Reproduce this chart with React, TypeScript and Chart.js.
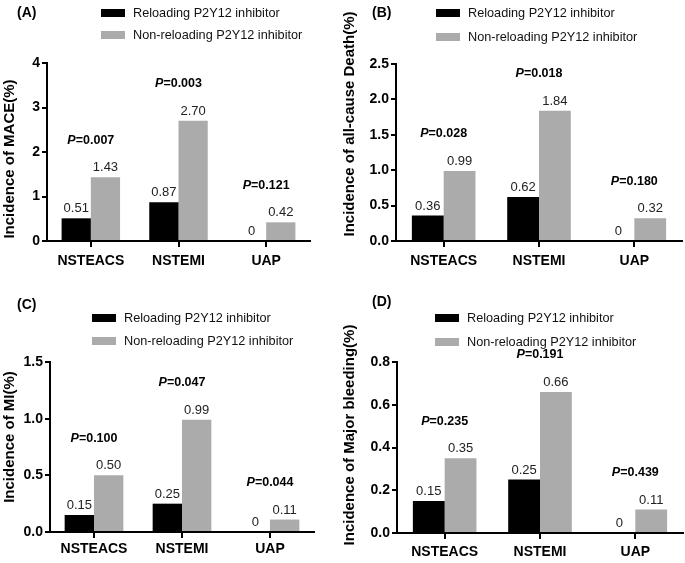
import React, { useEffect, useRef } from 'react';
import { Chart, registerables } from 'chart.js';

Chart.register(...registerables);

const FONT = "'Liberation Sans', Arial, Helvetica, sans-serif";
Chart.defaults.font.family = FONT;

// ---- data ----
const categories = ['NSTEACS', 'NSTEMI', 'UAP'];
const seriesLabels = ['Reloading P2Y12 inhibitor', 'Non-reloading P2Y12 inhibitor'];
const seriesColors = ['#000000', '#ababab'];

const maceReloading = [0.51, 0.87, 0];
const maceNonReloading = [1.43, 2.7, 0.42];
const maceP = ['0.007', '0.003', '0.121'];
const maceTicks = ['0', '1', '2', '3', '4'];

const deathReloading = [0.36, 0.62, 0];
const deathNonReloading = [0.99, 1.84, 0.32];
const deathP = ['0.028', '0.018', '0.180'];
const deathTicks = ['0.0', '0.5', '1.0', '1.5', '2.0', '2.5'];

const miReloading = [0.15, 0.25, 0];
const miNonReloading = [0.5, 0.99, 0.11];
const miP = ['0.100', '0.047', '0.044'];
const miTicks = ['0.0', '0.5', '1.0', '1.5'];

const bleedReloading = [0.15, 0.25, 0];
const bleedNonReloading = [0.35, 0.66, 0.11];
const bleedP = ['0.235', '0.191', '0.439'];
const bleedTicks = ['0.0', '0.2', '0.4', '0.6', '0.8'];

type Panel = {
  tag: string;
  yTitle: string;
  a: number[];
  b: number[];
  p: string[];
  ticks: string[];
  x: number; y: number; w: number; h: number;
  left: number; top: number; right: number; bottom: number;
  xPad: number;
  tagX: number; tagY: number;
  legX: number; legY: number; legGap: number;
  titleX: number; titleY: number;
};

const panels: Panel[] = [
  {
    tag: '(A)', yTitle: 'Incidence of MACE(%)', a: maceReloading, b: maceNonReloading, p: maceP, ticks: maceTicks,
    x: 0, y: 0, w: 340, h: 280, left: 47, top: 63, right: 30, bottom: 39, xPad: 6,
    tagX: 17, tagY: 13, legX: 101, legY: 13, legGap: 22, titleX: 10, titleY: 159,
  },
  {
    tag: '(B)', yTitle: 'Incidence of all-cause Death(%)', a: deathReloading, b: deathNonReloading, p: deathP, ticks: deathTicks,
    x: 340, y: 0, w: 345, h: 280, left: 56, top: 64, right: 3, bottom: 39, xPad: 6,
    tagX: 32, tagY: 13, legX: 96, legY: 13, legGap: 24, titleX: 10, titleY: 124,
  },
  {
    tag: '(C)', yTitle: 'Incidence of MI(%)', a: miReloading, b: miNonReloading, p: miP, ticks: miTicks,
    x: 0, y: 280, w: 340, h: 283, left: 50, top: 82, right: 26, bottom: 31, xPad: 3,
    tagX: 17, tagY: 25, legX: 92, legY: 38, legGap: 23, titleX: 10, titleY: 157,
  },
  {
    tag: '(D)', yTitle: 'Incidence of Major bleeding(%)', a: bleedReloading, b: bleedNonReloading, p: bleedP, ticks: bleedTicks,
    x: 340, y: 280, w: 345, h: 283, left: 57, top: 82, right: 2, bottom: 30, xPad: 5,
    tagX: 32, tagY: 22, legX: 95, legY: 38, legGap: 24, titleX: 10, titleY: 155,
  },
];

function fmtVal(v: number) {
  return v === 0 ? '0' : v.toFixed(2);
}

function makePlugin(p: Panel) {
  return {
    id: 'annot' + p.tag,
    afterDraw(chart: any) {
      const ctx = chart.ctx as CanvasRenderingContext2D;
      ctx.save();
      // value labels
      ctx.fillStyle = '#222';
      ctx.font = `13px ${FONT}`;
      ctx.textAlign = 'center';
      ctx.textBaseline = 'bottom';
      const metas = [chart.getDatasetMeta(0), chart.getDatasetMeta(1)];
      metas.forEach((meta: any, di: number) => {
        meta.data.forEach((bar: any, i: number) => {
          const v = chart.data.datasets[di].data[i] as number;
          ctx.fillText(fmtVal(v), bar.x, bar.y - 3);
        });
      });
      // P values
      ctx.fillStyle = '#000';
      ctx.textBaseline = 'middle';
      ctx.textAlign = 'left';
      const xs = chart.scales.x;
      categories.forEach((_c, i) => {
        const topY = Math.min(metas[0].data[i].y, metas[1].data[i].y);
        const cx = xs.getPixelForValue(i);
        const cy = topY - 37;
        const fI = `italic bold 12.5px ${FONT}`;
        const fB = `bold 12.5px ${FONT}`;
        ctx.font = fI;
        const w1 = ctx.measureText('P').width;
        ctx.font = fB;
        const rest = '=' + p.p[i];
        const w2 = ctx.measureText(rest).width;
        const sx = cx - (w1 + w2) / 2;
        ctx.font = fI;
        ctx.fillText('P', sx, cy);
        ctx.font = fB;
        ctx.fillText(rest, sx + w1, cy);
      });
      // panel tag
      ctx.font = `bold 14px ${FONT}`;
      ctx.fillText(p.tag, p.tagX, p.tagY);
      // legend
      ctx.font = `12.7px ${FONT}`;
      seriesLabels.forEach((lab, i) => {
        const y = p.legY + i * p.legGap;
        ctx.fillStyle = seriesColors[i];
        ctx.fillRect(p.legX, y - 4, 24, 8);
        ctx.fillStyle = '#111';
        ctx.fillText(lab, p.legX + 32, y);
      });
      // y title
      ctx.translate(p.titleX, p.titleY);
      ctx.rotate(-Math.PI / 2);
      ctx.textAlign = 'center';
      ctx.font = `bold 15px ${FONT}`;
      ctx.fillStyle = '#000';
      ctx.fillText(p.yTitle, 0, 0);
      ctx.restore();
    },
  };
}

function PanelChart({ p }: { p: Panel }) {
  const ref = useRef<HTMLCanvasElement>(null);
  useEffect(() => {
    if (!ref.current) return;
    const max = parseFloat(p.ticks[p.ticks.length - 1]);
    const step = parseFloat(p.ticks[1]) - parseFloat(p.ticks[0]);
    const chart = new Chart(ref.current, {
      type: 'bar',
      data: {
        labels: categories,
        datasets: [
          { label: seriesLabels[0], data: p.a, backgroundColor: seriesColors[0], borderWidth: 0, categoryPercentage: 0.667, barPercentage: 1 },
          { label: seriesLabels[1], data: p.b, backgroundColor: seriesColors[1], borderWidth: 0, categoryPercentage: 0.667, barPercentage: 1 },
        ],
      },
      options: {
        animation: false,
        responsive: false,
        devicePixelRatio: 1,
        layout: { padding: { left: 0, top: p.top, right: p.right, bottom: 0 } },
        plugins: { legend: { display: false }, tooltip: { enabled: false } },
        scales: {
          x: {
            offset: true,
            grid: { display: true, drawOnChartArea: false, drawTicks: true, tickLength: 6, offset: false, color: '#000', lineWidth: 2 },
            border: { display: true, color: '#000', width: 2 },
            ticks: { color: '#000', font: { size: 14, weight: 'bold' }, padding: p.xPad, maxRotation: 0, autoSkip: false },
            afterFit: (s: any) => { s.height = p.bottom; },
          },
          y: {
            min: 0,
            max,
            grid: { display: true, drawOnChartArea: false, drawTicks: true, tickLength: 5, color: '#000', lineWidth: 2 },
            border: { display: true, color: '#000', width: 2 },
            ticks: {
              stepSize: step,
              color: '#000',
              font: { size: 14, weight: 'bold' },
              padding: 2,
              callback: (_v: any, i: number) => p.ticks[i],
            },
            afterFit: (s: any) => { s.width = p.left; },
          },
        },
      } as any,
      plugins: [makePlugin(p)],
    });
    return () => chart.destroy();
  }, [p]);
  return (
    <canvas
      ref={ref}
      width={p.w}
      height={p.h}
      style={{ position: 'absolute', left: p.x, top: p.y, width: p.w, height: p.h }}
    />
  );
}

export default function App() {
  return (
    <div style={{ position: 'absolute', left: 0, top: 0, width: 685, height: 563, background: '#fff', overflow: 'hidden' }}>
      {panels.map((p) => (
        <PanelChart key={p.tag} p={p} />
      ))}
    </div>
  );
}
